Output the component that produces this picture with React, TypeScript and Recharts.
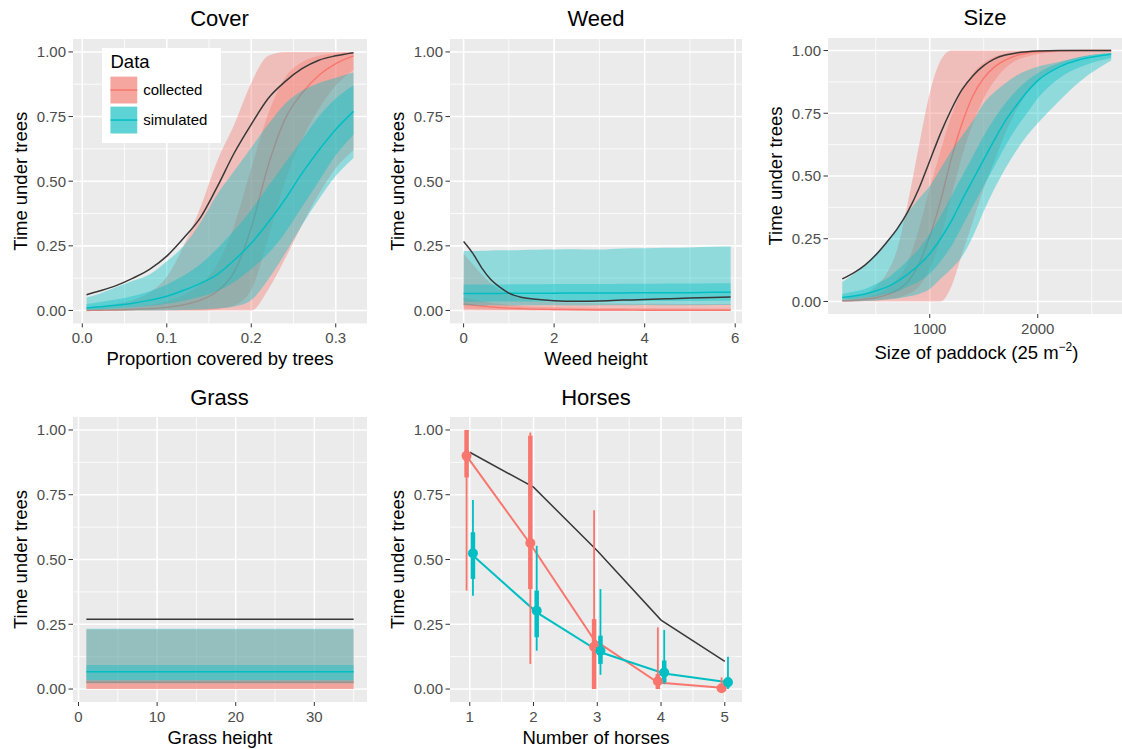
import { ComposedChart, Area, Line, Scatter, ErrorBar, XAxis, YAxis, CartesianGrid, Legend } from 'recharts'

const FONT = '"Liberation Sans", Arial, Helvetica, sans-serif'
const RED = '#F8766D'
const CYAN = '#00BFC4'
const DARK = '#383838'
const PANEL_BG = '#EBEBEB'
const RIBBON_OPACITY = 0.38

const Y_TICKS = [0, 0.25, 0.5, 0.75, 1]
const Y_MINOR = [0.125, 0.375, 0.625, 0.875]
const LEGEND_ITEMS = [
  { label: 'collected', color: RED },
  { label: 'simulated', color: CYAN },
]

type Band = [number, number]

// Cover: proportion covered by trees
const coverX = [0.005, 0.02, 0.04, 0.06, 0.08, 0.1, 0.12, 0.14, 0.16, 0.18, 0.2, 0.22, 0.24, 0.26, 0.28, 0.3, 0.321]
const coverBlack = [0.061, 0.075, 0.096, 0.125, 0.16, 0.21, 0.28, 0.36, 0.48, 0.61, 0.72, 0.82, 0.885, 0.935, 0.968, 0.985, 0.997]
const coverCollected = [0, 0.001, 0.002, 0.004, 0.007, 0.012, 0.022, 0.04, 0.075, 0.15, 0.32, 0.56, 0.74, 0.84, 0.91, 0.955, 0.985]
const coverSimulated = [0.01, 0.014, 0.02, 0.028, 0.04, 0.055, 0.078, 0.105, 0.14, 0.195, 0.26, 0.34, 0.43, 0.53, 0.62, 0.7, 0.77]
const coverCollectedOuter: Band[] = [[0, 0.01], [0, 0.015], [0, 0.025], [0, 0.04], [0, 0.07], [0, 0.13], [0, 0.25], [0, 0.4], [0, 0.58], [0, 0.72], [0, 0.88], [0.08, 0.985], [0.2, 1], [0.33, 1], [0.45, 1], [0.55, 1], [0.62, 1]]
const coverCollectedInner: Band[] = [[0, 0.002], [0, 0.004], [0, 0.007], [0, 0.012], [0, 0.02], [0, 0.035], [0, 0.06], [0, 0.1], [0.005, 0.18], [0.02, 0.33], [0.08, 0.55], [0.28, 0.76], [0.5, 0.9], [0.66, 0.96], [0.78, 0.985], [0.87, 0.995], [0.93, 1]]
const coverSimulatedOuter: Band[] = [[0, 0.05], [0, 0.065], [0, 0.09], [0, 0.115], [0, 0.14], [0.001, 0.19], [0.002, 0.25], [0.004, 0.34], [0.008, 0.45], [0.015, 0.54], [0.04, 0.63], [0.12, 0.72], [0.22, 0.8], [0.33, 0.85], [0.43, 0.88], [0.52, 0.9], [0.59, 0.92]]
const coverSimulatedInner: Band[] = [[0.003, 0.025], [0.005, 0.032], [0.008, 0.042], [0.012, 0.056], [0.018, 0.074], [0.026, 0.1], [0.038, 0.135], [0.053, 0.18], [0.075, 0.24], [0.11, 0.31], [0.16, 0.39], [0.22, 0.48], [0.3, 0.57], [0.4, 0.66], [0.5, 0.75], [0.6, 0.82], [0.68, 0.87]]

// Weed height
const weedX = [0, 0.2, 0.4, 0.6, 0.8, 1, 1.3, 1.6, 2, 2.5, 3, 3.5, 4, 4.5, 5, 5.5, 5.9]
const weedBlack = [0.267, 0.222, 0.165, 0.12, 0.09, 0.067, 0.05, 0.043, 0.038, 0.036, 0.037, 0.04, 0.042, 0.045, 0.048, 0.05, 0.052]
const weedCollected = [0.025, 0.021, 0.017, 0.014, 0.011, 0.009, 0.007, 0.005, 0.004, 0.003, 0.002, 0.002, 0.001, 0.001, 0.001, 0.001, 0.001]
const weedSimulated = [0.066, 0.066, 0.066, 0.066, 0.066, 0.067, 0.067, 0.067, 0.067, 0.068, 0.068, 0.068, 0.069, 0.069, 0.069, 0.07, 0.07]
const weedCollectedOuter: Band[] = [[0, 0.22], [0, 0.18], [0, 0.14], [0, 0.105], [0, 0.08], [0, 0.062], [0, 0.046], [0, 0.037], [0, 0.032], [0, 0.03], [0, 0.028], [0, 0.027], [0, 0.026], [0, 0.026], [0, 0.025], [0, 0.025], [0, 0.025]]
const weedCollectedInner: Band[] = [[0.008, 0.05], [0.006, 0.043], [0.005, 0.036], [0.004, 0.03], [0.003, 0.025], [0.002, 0.021], [0.002, 0.017], [0.001, 0.014], [0.001, 0.012], [0.001, 0.011], [0, 0.01], [0, 0.01], [0, 0.009], [0, 0.009], [0, 0.009], [0, 0.008], [0, 0.008]]
const weedSimulatedOuter: Band[] = [[0.02, 0.23], [0.02, 0.23], [0.019, 0.231], [0.02, 0.232], [0.02, 0.233], [0.019, 0.233], [0.02, 0.234], [0.02, 0.235], [0.02, 0.236], [0.019, 0.237], [0.02, 0.236], [0.02, 0.24], [0.021, 0.241], [0.02, 0.243], [0.02, 0.244], [0.021, 0.246], [0.021, 0.247]]
const weedSimulatedInner: Band[] = [[0.034, 0.1], [0.034, 0.1], [0.034, 0.1], [0.035, 0.1], [0.035, 0.1], [0.035, 0.101], [0.035, 0.101], [0.035, 0.101], [0.036, 0.102], [0.036, 0.102], [0.036, 0.102], [0.036, 0.103], [0.037, 0.103], [0.037, 0.104], [0.037, 0.104], [0.038, 0.105], [0.038, 0.105]]

// Size of paddock
const sizeX = [190, 300, 400, 500, 600, 700, 800, 900, 1000, 1100, 1200, 1300, 1400, 1500, 1600, 1700, 1800, 1900, 2000, 2200, 2400, 2680]
const sizeBlack = [0.09, 0.115, 0.145, 0.185, 0.235, 0.29, 0.36, 0.45, 0.56, 0.67, 0.765, 0.845, 0.9, 0.94, 0.967, 0.982, 0.99, 0.995, 0.998, 1, 1, 1]
const sizeCollected = [0.003, 0.005, 0.009, 0.015, 0.026, 0.045, 0.08, 0.15, 0.26, 0.4, 0.57, 0.71, 0.82, 0.89, 0.935, 0.962, 0.98, 0.99, 0.995, 0.999, 1, 1]
const sizeSimulated = [0.016, 0.022, 0.03, 0.042, 0.057, 0.08, 0.11, 0.145, 0.19, 0.25, 0.32, 0.405, 0.485, 0.565, 0.645, 0.72, 0.78, 0.835, 0.88, 0.935, 0.965, 0.985]
const sizeCollectedOuter: Band[] = [[0, 0.01], [0, 0.02], [0, 0.03], [0, 0.06], [0, 0.11], [0, 0.21], [0, 0.4], [0, 0.62], [0, 0.83], [0, 0.96], [0.06, 1], [0.19, 1], [0.32, 1], [0.45, 1], [0.56, 1], [0.67, 1], [0.76, 1], [0.83, 1], [0.88, 1], [0.94, 1], [0.97, 1], [0.99, 1]]
const sizeCollectedInner: Band[] = [[0, 0.006], [0, 0.01], [0.002, 0.016], [0.004, 0.03], [0.008, 0.05], [0.015, 0.09], [0.03, 0.16], [0.06, 0.29], [0.13, 0.45], [0.25, 0.6], [0.42, 0.74], [0.58, 0.84], [0.71, 0.91], [0.81, 0.95], [0.88, 0.975], [0.93, 0.988], [0.96, 0.995], [0.975, 0.998], [0.985, 1], [0.995, 1], [1, 1], [1, 1]]
const sizeSimulatedOuter: Band[] = [[0, 0.078], [0, 0.11], [0.002, 0.145], [0.004, 0.19], [0.008, 0.235], [0.012, 0.29], [0.02, 0.355], [0.03, 0.41], [0.05, 0.46], [0.09, 0.53], [0.13, 0.6], [0.18, 0.66], [0.26, 0.72], [0.36, 0.79], [0.45, 0.835], [0.53, 0.87], [0.6, 0.9], [0.66, 0.92], [0.71, 0.935], [0.8, 0.955], [0.88, 0.975], [0.96, 0.99]]
const sizeSimulatedInner: Band[] = [[0.008, 0.03], [0.01, 0.04], [0.015, 0.05], [0.02, 0.07], [0.03, 0.09], [0.04, 0.125], [0.06, 0.165], [0.08, 0.21], [0.11, 0.27], [0.16, 0.34], [0.22, 0.42], [0.3, 0.5], [0.38, 0.58], [0.46, 0.66], [0.54, 0.73], [0.62, 0.79], [0.69, 0.84], [0.75, 0.88], [0.81, 0.91], [0.89, 0.95], [0.935, 0.975], [0.97, 0.99]]

// Grass height (flat)
const grassX = [1, 35]
const grassBlack = [0.269, 0.269]
const grassCollected = [0.026, 0.026]
const grassSimulated = [0.067, 0.067]
const grassCollectedOuter: Band[] = [[0, 0.23], [0, 0.23]]
const grassCollectedInner: Band[] = [[0, 0.035], [0, 0.035]]
const grassSimulatedOuter: Band[] = [[0.022, 0.233], [0.022, 0.233]]
const grassSimulatedInner: Band[] = [[0.035, 0.093], [0.035, 0.093]]

// Number of horses
const horsesN = [1, 2, 3, 4, 5]
const horsesBlack = [0.914, 0.779, 0.534, 0.266, 0.107]
const horsesCollectedLine = [0.9, 0.56, 0.19, 0.025, 0.005]
const horsesCollectedMid = [0.9, 0.564, 0.163, 0.03, 0.003]
const horsesCollectedThin: Band[] = [[0.38, 1], [0.097, 0.99], [0, 0.69], [0, 0.238], [0, 0.045]]
const horsesCollectedThick: Band[] = [[0.817, 1], [0.386, 0.978], [0, 0.27], [0, 0.058], [0, 0.012]]
const horsesSimulatedLine = [0.515, 0.296, 0.142, 0.06, 0.026]
const horsesSimulatedMid = [0.524, 0.302, 0.148, 0.064, 0.026]
const horsesSimulatedThin: Band[] = [[0.36, 0.73], [0.148, 0.553], [0.055, 0.386], [0.019, 0.228], [0, 0.125]]
const horsesSimulatedThick: Band[] = [[0.425, 0.605], [0.2, 0.38], [0.097, 0.206], [0.026, 0.11], [0.006, 0.045]]
const DODGE = 0.05

interface RibbonSet {
  black: number[]
  collected: number[]
  simulated: number[]
  collectedOuter: Band[]
  collectedInner: Band[]
  simulatedOuter: Band[]
  simulatedInner: Band[]
}

function buildRows(x: number[], s: RibbonSet) {
  return x.map((xv, i) => ({
    x: xv,
    black: s.black[i],
    collected: s.collected[i],
    simulated: s.simulated[i],
    collectedOuter: s.collectedOuter[i],
    collectedInner: s.collectedInner[i],
    simulatedOuter: s.simulatedOuter[i],
    simulatedInner: s.simulatedInner[i],
  }))
}

const coverRows = buildRows(coverX, {
  black: coverBlack, collected: coverCollected, simulated: coverSimulated,
  collectedOuter: coverCollectedOuter, collectedInner: coverCollectedInner,
  simulatedOuter: coverSimulatedOuter, simulatedInner: coverSimulatedInner,
})
const weedRows = buildRows(weedX, {
  black: weedBlack, collected: weedCollected, simulated: weedSimulated,
  collectedOuter: weedCollectedOuter, collectedInner: weedCollectedInner,
  simulatedOuter: weedSimulatedOuter, simulatedInner: weedSimulatedInner,
})
const sizeRows = buildRows(sizeX, {
  black: sizeBlack, collected: sizeCollected, simulated: sizeSimulated,
  collectedOuter: sizeCollectedOuter, collectedInner: sizeCollectedInner,
  simulatedOuter: sizeSimulatedOuter, simulatedInner: sizeSimulatedInner,
})
const grassRows = buildRows(grassX, {
  black: grassBlack, collected: grassCollected, simulated: grassSimulated,
  collectedOuter: grassCollectedOuter, collectedInner: grassCollectedInner,
  simulatedOuter: grassSimulatedOuter, simulatedInner: grassSimulatedInner,
})

const pointRows = (mid: number[], thin: Band[], thick: Band[], shift: number) =>
  horsesN.map((n, i) => ({
    x: n + shift,
    y: mid[i],
    thin: [mid[i] - thin[i][0], thin[i][1] - mid[i]],
    thick: [mid[i] - thick[i][0], thick[i][1] - mid[i]],
  }))
const lineRows = (values: number[], shift: number) => horsesN.map((n, i) => ({ x: n + shift, y: values[i] }))

const collectedPoints = pointRows(horsesCollectedMid, horsesCollectedThin, horsesCollectedThick, -DODGE)
const simulatedPoints = pointRows(horsesSimulatedMid, horsesSimulatedThin, horsesSimulatedThick, DODGE)

// plot area geometry (pixel box of the grey panel)
const AXIS_LEFT = 73
const AXIS_TOP = 40
const AXIS_BOTTOM = 50
const AXIS_RIGHT = 6
const Y_AXIS_W = 60
const X_AXIS_H = 45

interface PlotBox { left: number; top: number; width: number; height: number }

interface PanelProps {
  box: PlotBox
  title: string
  titleCenter?: number
  xDomain: [number, number]
  xTicks: number[]
  xMinor: number[]
  xFormat?: (v: number) => string
  xLabel: any
  data?: any[]
  yKey?: string
  children: React.ReactNode
}

function Panel({ box, title, titleCenter, xDomain, xTicks, xMinor, xFormat, xLabel, data, yKey, children }: PanelProps) {
  const center = titleCenter ?? box.left + box.width / 2
  return (
    <>
      <div
        style={{
          position: 'absolute', left: center - 100, width: 200, top: box.top - 30.2,
          textAlign: 'center', fontSize: 22, lineHeight: '22px', color: '#000',
        }}
      >
        {title}
      </div>
      <div style={{ position: 'absolute', left: box.left - AXIS_LEFT, top: box.top - AXIS_TOP }}>
        <ComposedChart
          width={box.width + AXIS_LEFT + AXIS_RIGHT}
          height={box.height + AXIS_TOP + AXIS_BOTTOM}
          data={data}
          margin={{ top: AXIS_TOP, right: AXIS_RIGHT, bottom: AXIS_BOTTOM - X_AXIS_H, left: AXIS_LEFT - Y_AXIS_W }}
        >
          <CartesianGrid fill={PANEL_BG} fillOpacity={1} stroke="#fff" strokeWidth={0.8} horizontalValues={Y_MINOR} verticalValues={xMinor} />
          <CartesianGrid stroke="#fff" strokeWidth={1.6} horizontalValues={Y_TICKS} verticalValues={xTicks} />
          <XAxis
            type="number"
            dataKey="x"
            domain={xDomain}
            allowDataOverflow
            ticks={xTicks}
            interval={0}
            tickFormatter={xFormat}
            axisLine={false}
            tickLine={{ stroke: '#333', strokeWidth: 1 }}
            tickSize={4}
            tickMargin={5}
            height={X_AXIS_H}
            tick={{ fill: '#4D4D4D', fontSize: 15 }}
            label={xLabel}
          />
          <YAxis
            type="number"
            dataKey={yKey}
            domain={[-0.05, 1.05]}
            allowDataOverflow
            ticks={Y_TICKS}
            interval={0}
            tickFormatter={(v: number) => v.toFixed(2)}
            axisLine={false}
            tickLine={{ stroke: '#333', strokeWidth: 1 }}
            tickSize={4.5}
            tickMargin={2.5}
            width={Y_AXIS_W}
            tick={{ fill: '#4D4D4D', fontSize: 15 }}
            label={{
              value: 'Time under trees', angle: -90, position: 'insideLeft', offset: 7.5,
              fontSize: 18.5, fill: '#000', style: { textAnchor: 'middle' },
            }}
          />
          {children}
        </ComposedChart>
      </div>
    </>
  )
}

const xTitle = (value: string) => ({ value, position: 'insideBottom', offset: 3.5, fontSize: 18.5, fill: '#000' })

function SizeAxisLabel({ viewBox }: any) {
  const { x, y, width } = viewBox
  return (
    <text x={x + width / 2} y={y + 44.5} textAnchor="middle" fontSize={18.5} fill="#000">
      Size of paddock (25 m
      <tspan dy={-8} fontSize={12}>−2</tspan>
      <tspan dy={8} fontSize={18.5}>)</tspan>
    </text>
  )
}

// ggplot draws each group's ribbons and line together, so the cyan ribbons sit over the red line
function ribbonLayers(curve: 'monotone' | 'linear') {
  const area = (key: string, color: string, z: number) => (
    <Area
      key={key}
      type={curve}
      dataKey={key}
      stroke="none"
      fill={color}
      fillOpacity={RIBBON_OPACITY}
      dot={false}
      activeDot={false}
      legendType="none"
      isAnimationActive={false}
      zIndex={z}
    />
  )
  const line = (key: string, color: string, width: number, z: number) => (
    <Line
      key={key}
      type={curve}
      dataKey={key}
      stroke={color}
      strokeWidth={width}
      dot={false}
      activeDot={false}
      legendType="none"
      isAnimationActive={false}
      zIndex={z}
    />
  )
  return [
    area('collectedOuter', RED, 101),
    area('collectedInner', RED, 102),
    line('collected', RED, 1.4, 103),
    area('simulatedOuter', CYAN, 104),
    area('simulatedInner', CYAN, 105),
    line('simulated', CYAN, 1.5, 106),
    line('black', DARK, 1.5, 107),
  ]
}

function CoverLegend() {
  return (
    <svg width={119} height={95} style={{ display: 'block' }}>
      <rect width={119} height={95} fill="#fff" />
      <text x={8.5} y={20.3} fontSize={18.5} fill="#000">Data</text>
      {LEGEND_ITEMS.map((item, i) => (
        <g key={item.label} transform={`translate(8.5, ${28.7 + i * 30})`}>
          <rect width={26.7} height={26.7} fill="#F2F2F2" />
          <rect width={26.7} height={26.7} fill={item.color} fillOpacity={RIBBON_OPACITY} />
          <rect width={26.7} height={26.7} fill={item.color} fillOpacity={RIBBON_OPACITY} />
          <line x1={0} x2={26.7} y1={13.35} y2={13.35} stroke={item.color} strokeWidth={1.5} />
          <text x={32.7} y={18.8} fontSize={15} fill="#000">{item.label}</text>
        </g>
      ))}
    </svg>
  )
}

const pointShape = (color: string) => (p: any) => <circle cx={p.cx} cy={p.cy} r={5} fill={color} />

export default function App() {
  return (
    <div
      style={{
        position: 'absolute', left: 0, top: 0, width: 1122, height: 749,
        overflow: 'hidden', background: '#fff', fontFamily: FONT,
      }}
    >
      <Panel
        box={{ left: 72.5, top: 38.6, width: 294, height: 284.4 }}
        title="Cover"
        xDomain={[-0.011, 0.337]}
        xTicks={[0, 0.1, 0.2, 0.3]}
        xMinor={[0.05, 0.15, 0.25]}
        xFormat={(v) => v.toFixed(1)}
        xLabel={xTitle('Proportion covered by trees')}
        data={coverRows}
      >
        {ribbonLayers('monotone')}
        <Legend
          content={() => <CoverLegend />}
          layout="horizontal"
          verticalAlign="middle"
          align="center"
          wrapperStyle={{ left: 102, top: 49.4, width: 119, height: 95 }}
        />
      </Panel>

      <Panel
        box={{ left: 450, top: 38.6, width: 292, height: 284.4 }}
        title="Weed"
        xDomain={[-0.3, 6.15]}
        xTicks={[0, 2, 4, 6]}
        xMinor={[1, 3, 5]}
        xLabel={xTitle('Weed height')}
        data={weedRows}
      >
        {ribbonLayers('monotone')}
      </Panel>

      <Panel
        box={{ left: 828, top: 37.5, width: 297, height: 276 }}
        title="Size"
        titleCenter={985}
        xDomain={[58, 2808]}
        xTicks={[1000, 2000]}
        xMinor={[500, 1500, 2500]}
        xLabel={(p: any) => <SizeAxisLabel viewBox={p.viewBox} />}
        data={sizeRows}
      >
        {ribbonLayers('monotone')}
      </Panel>

      <Panel
        box={{ left: 72.5, top: 416.7, width: 294, height: 285 }}
        title="Grass"
        xDomain={[-0.7, 36.7]}
        xTicks={[0, 10, 20, 30]}
        xMinor={[5, 15, 25, 35]}
        xLabel={xTitle('Grass height')}
        data={grassRows}
      >
        {ribbonLayers('linear')}
      </Panel>

      <Panel
        box={{ left: 450, top: 416.7, width: 292, height: 285 }}
        title="Horses"
        xDomain={[0.69, 5.27]}
        xTicks={horsesN}
        xMinor={[1.5, 2.5, 3.5, 4.5]}
        xLabel={xTitle('Number of horses')}
        yKey="y"
      >
        <Line data={lineRows(horsesBlack, 0)} dataKey="y" stroke={DARK} strokeWidth={1.5} dot={false} activeDot={false} legendType="none" isAnimationActive={false} />
        <Line data={lineRows(horsesCollectedLine, -DODGE)} dataKey="y" stroke={RED} strokeWidth={2} dot={false} activeDot={false} legendType="none" isAnimationActive={false} />
        <Line data={lineRows(horsesSimulatedLine, DODGE)} dataKey="y" stroke={CYAN} strokeWidth={2} dot={false} activeDot={false} legendType="none" isAnimationActive={false} />
        <Scatter data={collectedPoints} dataKey="y" shape={pointShape(RED)} legendType="none" isAnimationActive={false}>
          <ErrorBar dataKey="thin" direction="y" width={0} stroke={RED} strokeWidth={1.8} isAnimationActive={false} />
          <ErrorBar dataKey="thick" direction="y" width={0} stroke={RED} strokeWidth={4.5} isAnimationActive={false} />
        </Scatter>
        <Scatter data={simulatedPoints} dataKey="y" shape={pointShape(CYAN)} legendType="none" isAnimationActive={false}>
          <ErrorBar dataKey="thin" direction="y" width={0} stroke={CYAN} strokeWidth={1.8} isAnimationActive={false} />
          <ErrorBar dataKey="thick" direction="y" width={0} stroke={CYAN} strokeWidth={4.5} isAnimationActive={false} />
        </Scatter>
      </Panel>
    </div>
  )
}
